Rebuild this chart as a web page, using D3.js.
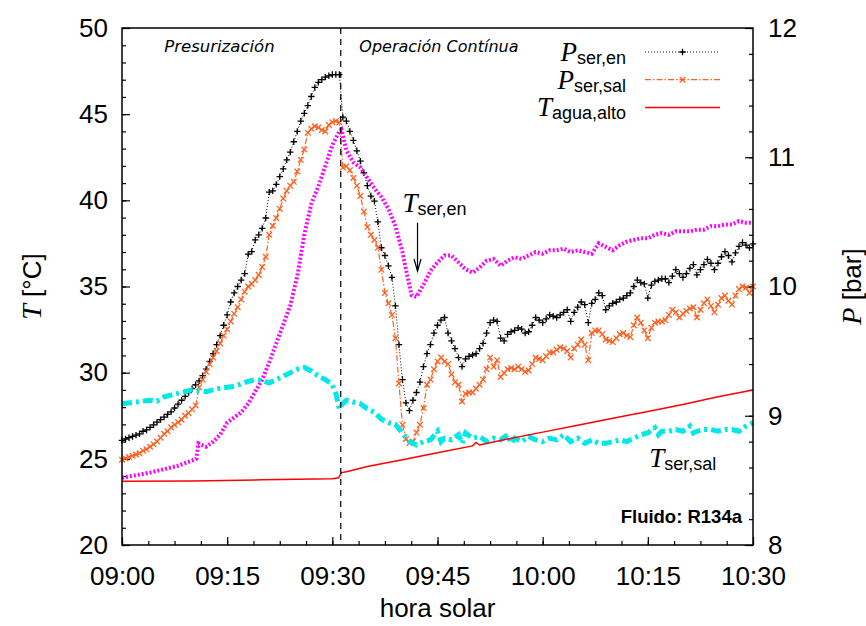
<!DOCTYPE html>
<html>
<head>
<meta charset="utf-8">
<script src="https://cdn.jsdelivr.net/npm/d3@7"></script>
<style>
body { margin: 0; background: #fff; }
svg text { fill: #000; }
.mathit { font-family: "Liberation Serif", serif; font-style: italic; }
</style>
</head>
<body>
<div id="chart"></div>
<script>
// time is minutes after 09:00; P series sampled every half minute
var pStep = 0.5;
var pSerEn = [
  8.81,8.82,8.83,8.84,8.85,8.86,8.88,8.89,8.91,8.93,
  8.95,8.97,8.99,9.01,9.03,9.06,9.09,9.12,9.15,9.18,
  9.21,9.24,9.27,9.31,9.36,9.42,9.48,9.55,9.62,9.70,
  9.78,9.88,9.95,10.00,10.05,10.10,10.25,10.27,10.36,10.40,
  10.45,10.53,10.73,10.74,10.79,10.85,10.91,10.98,11.04,11.12,
  11.20,11.28,11.34,11.40,11.47,11.54,11.58,11.60,11.62,11.63,
  11.64,11.64,11.64,11.31,11.28,11.20,11.13,11.05,10.97,10.88,
  10.78,10.70,10.66,10.50,10.30,10.24,10.16,10.07,9.85,9.55,
  9.28,9.10,9.04,9.12,9.18,9.26,9.38,9.48,9.55,9.64,
  9.70,9.74,9.76,9.64,9.58,9.52,9.45,9.38,9.44,9.46,
  9.47,9.48,9.52,9.56,9.64,9.72,9.74,9.73,9.60,9.58,
  9.63,9.65,9.66,9.68,9.67,9.64,9.65,9.70,9.76,9.74,
  9.72,9.75,9.78,9.77,9.76,9.78,9.80,9.82,9.73,9.80,
  9.84,9.88,9.86,9.72,9.87,9.90,9.95,9.93,9.82,9.85,
  9.87,9.88,9.90,9.91,9.93,9.95,10.00,10.05,10.03,10.02,
  9.91,10.01,10.04,10.05,10.06,10.06,10.03,10.08,10.13,10.10,
  10.07,10.10,10.14,10.17,10.09,10.13,10.17,10.21,10.18,10.13,
  10.18,10.23,10.27,10.24,10.19,10.26,10.31,10.34,10.32,10.30,
  10.33];
var pSerSal = [
  8.66,8.67,8.68,8.69,8.70,8.71,8.73,8.74,8.76,8.78,
  8.80,8.83,8.86,8.88,8.91,8.93,8.95,8.97,9.00,9.02,
  9.05,9.08,9.22,9.28,9.34,9.40,9.45,9.50,9.56,9.62,
  9.67,9.73,9.79,9.84,9.90,9.96,10.00,10.02,10.05,10.09,
  10.15,10.23,10.40,10.47,10.53,10.60,10.68,10.74,10.78,10.81,
  10.89,10.98,11.06,11.19,11.22,11.24,11.23,11.21,11.20,11.25,
  11.27,11.28,11.27,10.92,10.93,10.90,10.84,10.78,10.70,10.58,
  10.46,10.40,10.36,10.30,10.13,9.95,9.87,9.78,9.60,9.25,
  8.93,8.82,8.79,8.80,8.87,8.93,9.06,9.24,9.28,9.36,
  9.42,9.45,9.42,9.40,9.32,9.26,9.24,9.11,9.17,9.18,
  9.18,9.21,9.24,9.28,9.36,9.45,9.38,9.43,9.30,9.33,
  9.36,9.37,9.36,9.38,9.36,9.34,9.35,9.40,9.45,9.44,
  9.43,9.46,9.49,9.49,9.51,9.53,9.52,9.50,9.45,9.52,
  9.55,9.59,9.55,9.43,9.64,9.66,9.66,9.63,9.59,9.58,
  9.57,9.60,9.63,9.64,9.62,9.61,9.70,9.76,9.72,9.66,
  9.60,9.68,9.72,9.73,9.73,9.74,9.78,9.82,9.80,9.76,
  9.79,9.81,9.83,9.84,9.76,9.82,9.87,9.90,9.85,9.80,
  9.86,9.91,9.93,9.89,9.86,9.93,9.98,10.00,9.99,9.95,
  10.00];
// [minute, degC]
var tSerEn = [[0,23.9],[2,24.05],[4,24.2],[6,24.4],[8,24.6],[10,24.9],[10.6,25.0],[10.9,25.9],[12,25.7],[13,26.0],
  [14,26.4],[15,27.1],[16,27.4],[17,27.7],[18,28.2],[19,28.9],[20,29.6],[21,30.6],[22,31.7],[23,32.8],
  [24,33.9],[25,35.6],[26,38.0],[27,39.8],[28,40.8],[29,42.0],[30,43.2],[31,44.0],[31.3,44.1],[32,42.9],
  [33,42.2],[34,41.9],[35,41.3],[36,40.7],[37,40.2],[38,39.5],[39,38.5],[40,37.0],[40.6,35.8],[41.3,34.5],
  [42,34.4],[43,35.1],[44,35.9],[45,36.4],[46,36.8],[47,36.8],[48,36.4],[49,36.0],[50,35.8],[51,36.1],
  [52,36.5],[53,36.6],[54,36.2],[55,36.5],[56,36.7],[57,36.6],[58,36.8],[59,37.0],[60,36.9],[61,37.1],
  [62,37.1],[63,37.2],[64,37.0],[65,37.1],[66,37.0],[67,36.9],[68,37.5],[69,37.3],[70,37.1],[71,37.4],
  [72,37.6],[73,37.7],[74,37.8],[75,37.8],[76,38.0],[77,38.1],[78,38.0],[79,38.2],[80,38.2],[81,38.2],
  [82,38.3],[83,38.3],[84,38.5],[85,38.5],[86,38.6],[87,38.6],[88,38.8],[89,38.7],[90,38.7]];
var tSerSal = [[0,28.2],[2,28.3],[4,28.4],[5,28.35],[6,28.6],[7,28.7],[8,28.8],[9,28.9],[10,29.0],[11,28.95],
  [12,28.9],[13,29.0],[14,29.1],[15,29.15],[16,29.2],[17,29.35],[18,29.5],[19,29.6],[20,29.55],[21,29.4],
  [22,29.6],[23,29.8],[24,30.0],[25,30.2],[26,30.3],[27,30.1],[28,29.8],[29,29.6],[30,29.3],[30.5,28.8],
  [31,27.9],[31.5,28.2],[32,28.4],[33,28.3],[34,28.2],[35,27.9],[36,27.7],[37,27.3],[38,27.1],[39,27.0],
  [40,26.5],[41,26.0],[42,25.8],[43,26.0],[44,26.1],[45,26.6],[45.5,26.0],[46,26.2],[47,26.1],[48,26.4],
  [48.5,25.9],[49,26.5],[50,26.2],[51,26.3],[52,26.0],[53,26.2],[54,26.1],[55,26.4],[55.5,25.9],[56,26.2],
  [57,26.0],[58,26.3],[59,26.1],[60,26.0],[61,26.2],[62,26.1],[63,26.4],[64,26.0],[65,26.2],[66,25.9],
  [67,26.1],[68,25.9],[69,25.9],[70,26.0],[71,26.1],[72,26.0],[73,26.2],[74,26.4],[75,26.5],[76,26.8],
  [76.5,26.4],[77,26.6],[78,26.6],[79,26.7],[80,26.6],[81,26.9],[81.5,26.5],[82,26.6],[83,26.7],[84,26.7],
  [85,26.6],[86,26.7],[87,26.7],[88,26.6],[89,26.9],[90,27.1]];
var tAguaAlto = [[0,23.7],[10,23.72],[20,23.78],[30,23.85],[30.9,23.9],[31.3,24.2],[32,24.25],[33,24.35],
  [35,24.55],[40,24.95],[45,25.35],[50,25.75],[50.5,25.95],[51,25.8],[55,26.15],[60,26.55],[65,26.95],
  [70,27.35],[75,27.75],[80,28.15],[85,28.6],[90,29.0]];

var xTicks = [0, 15, 30, 45, 60, 75, 90];
var xTickLabels = ["09:00", "09:15", "09:30", "09:45", "10:00", "10:15", "10:30"];
var tTicks = [20, 25, 30, 35, 40, 45, 50];
var pTicks = [8, 9, 10, 11, 12];
var switchTime = 31.2;

var sans = "Liberation Sans, Arial, sans-serif";
var margin = {top: 28, right: 113, bottom: 81, left: 122},
    width = 866 - margin.left - margin.right,
    height = 626 - margin.top - margin.bottom;

var svg = d3.select("#chart").append("svg")
    .attr("width", 866)
    .attr("height", 626)
    .attr("font-family", sans)
  .append("g")
    .attr("transform", "translate(" + margin.left + "," + margin.top + ")");

var x = d3.scaleLinear().domain([0, 90]).range([0, width]);
var yT = d3.scaleLinear().domain([20, 50]).range([height, 0]);
var yP = d3.scaleLinear().domain([8, 12]).range([height, 0]);

// axes, ticks pointing inside
svg.append("g")
    .attr("transform", "translate(0," + height + ")")
    .call(d3.axisBottom(x).tickValues(d3.range(0, 90.01, 3.75)).tickSize(-4).tickFormat(""));
svg.append("g")
    .attr("transform", "translate(0," + height + ")")
    .call(d3.axisBottom(x).tickValues(xTicks).tickSize(-8).tickPadding(22)
      .tickFormat(function(d, i) { return xTickLabels[i]; }));
svg.append("g")
    .call(d3.axisLeft(yT).tickValues(d3.range(20, 50.01, 1)).tickSize(-4).tickFormat(""));
svg.append("g")
    .call(d3.axisLeft(yT).tickValues(tTicks).tickSize(-8).tickPadding(14));
svg.append("g")
    .attr("transform", "translate(" + width + ",0)")
    .call(d3.axisRight(yP).tickValues(d3.range(8, 12.01, 0.2)).tickSize(-4).tickFormat(""));
svg.append("g")
    .attr("transform", "translate(" + width + ",0)")
    .call(d3.axisRight(yP).tickValues(pTicks).tickSize(-8).tickPadding(15).tickFormat(d3.format("d")));

svg.selectAll(".domain").remove();
svg.selectAll(".tick line").attr("stroke", "#000").attr("stroke-width", 1.2);
svg.selectAll(".tick text").attr("font-size", 26).attr("font-family", sans);

var pData = function(arr) { return arr.map(function(v, i) { return {t: i * pStep, v: v}; }); };
var enData = pData(pSerEn), salData = pData(pSerSal);

var lineP = d3.line().x(function(d) { return x(d.t); }).y(function(d) { return yP(d.v); });
var lineT = d3.line().x(function(d) { return x(d[0]); }).y(function(d) { return yT(d[1]); });

var plusPath = "M-3.2,0H3.2M0,-3.2V3.2";
var crossPath = "M-2.8,-2.8L2.8,2.8M-2.8,2.8L2.8,-2.8";

// P_ser,en
svg.append("path").datum(enData).attr("d", lineP)
    .attr("fill", "none").attr("stroke", "#000").attr("stroke-width", 1).attr("stroke-dasharray", "1,2");
svg.append("g").selectAll("path").data(enData).join("path")
    .attr("transform", function(d) { return "translate(" + x(d.t) + "," + yP(d.v) + ")"; })
    .attr("d", plusPath).attr("stroke", "#000").attr("stroke-width", 1.3);

// P_ser,sal
svg.append("path").datum(salData).attr("d", lineP)
    .attr("fill", "none").attr("stroke", "#ff6020").attr("stroke-width", 1.2).attr("stroke-dasharray", "6,2,1.5,2");
svg.append("g").selectAll("path").data(salData).join("path")
    .attr("transform", function(d) { return "translate(" + x(d.t) + "," + yP(d.v) + ")"; })
    .attr("d", crossPath).attr("stroke", "#ff6020").attr("stroke-width", 1.3);

// T_ser,en
svg.append("path").datum(tSerEn).attr("d", lineT)
    .attr("fill", "none").attr("stroke", "#ff00ff").attr("stroke-width", 4).attr("stroke-dasharray", "2,2");
// T_ser,sal
svg.append("path").datum(tSerSal).attr("d", lineT)
    .attr("fill", "none").attr("stroke", "#00e8e8").attr("stroke-width", 5).attr("stroke-dasharray", "10,4,3,4");
// T_agua,alto
svg.append("path").datum(tAguaAlto).attr("d", lineT)
    .attr("fill", "none").attr("stroke", "#ff0000").attr("stroke-width", 1.5);

// start of continuous operation
svg.append("line")
    .attr("x1", x(switchTime)).attr("x2", x(switchTime)).attr("y1", 0).attr("y2", height)
    .attr("stroke", "#000").attr("stroke-width", 1.2).attr("stroke-dasharray", "6,5");

svg.append("rect").attr("width", width).attr("height", height)
    .attr("fill", "none").attr("stroke", "#000").attr("stroke-width", 1.5);

// phase labels
svg.append("text").attr("x", x(13.9)).attr("y", 24).attr("text-anchor", "middle")
    .attr("font-size", 16.5).attr("font-style", "italic").attr("font-family", "DejaVu Sans, sans-serif")
    .text("Presurización");
svg.append("text").attr("x", x(45.2)).attr("y", 24).attr("text-anchor", "middle")
    .attr("font-size", 16).attr("font-style", "italic").attr("font-family", "DejaVu Sans, sans-serif")
    .text("Operación Contínua");

function subText(g, px, py, main, sub, anchor) {
  var t = g.append("text").attr("x", px).attr("y", py).attr("text-anchor", anchor || "start");
  t.append("tspan").attr("class", "mathit").attr("font-size", 27).text(main);
  t.append("tspan").attr("font-size", 18).attr("dy", 3).text(sub);
  return t;
}

// legend
var legend = svg.append("g");
var legRows = [
  {main: "P", sub: "ser,en", color: "#000", dash: "1,2", w: 1, mark: plusPath},
  {main: "P", sub: "ser,sal", color: "#ff6020", dash: "6,2,1.5,2", w: 1.2, mark: crossPath},
  {main: "T", sub: "agua,alto", color: "#ff0000", dash: null, w: 1.5, mark: null}
];
legRows.forEach(function(r, i) {
  var ly = 24 + i * 27.7;
  subText(legend, 504, ly + 9, r.main, r.sub, "end");
  legend.append("line").attr("x1", 523).attr("x2", 598).attr("y1", ly).attr("y2", ly)
    .attr("stroke", r.color).attr("stroke-width", r.w).attr("stroke-dasharray", r.dash);
  if (r.mark) legend.append("path").attr("transform", "translate(560.5," + ly + ")")
    .attr("d", r.mark).attr("stroke", r.color).attr("stroke-width", 1.3);
});

// annotations
subText(svg, x(40.0), yT(39.3), "T", "ser,en");
svg.append("line").attr("x1", x(42.15)).attr("x2", x(42.15)).attr("y1", yT(38.7)).attr("y2", yT(35.9))
    .attr("stroke", "#000").attr("stroke-width", 1.2);
svg.append("path")
    .attr("transform", "translate(" + x(42.15) + "," + yT(35.9) + ")")
    .attr("d", "M-3.5,-12L0,0L3.5,-12").attr("fill", "none").attr("stroke", "#000").attr("stroke-width", 1.2);
subText(svg, x(75.2), yT(24.5), "T", "ser,sal");

svg.append("text").attr("x", width - 11).attr("y", height - 22).attr("text-anchor", "end")
    .attr("font-size", 18.5).attr("font-weight", "bold").text("Fluido: R134a");

// axis titles
var yl = svg.append("text").attr("transform", "translate(" + (-81) + "," + (height / 2) + ") rotate(-90)")
    .attr("text-anchor", "middle");
yl.append("tspan").attr("class", "mathit").attr("font-size", 28).text("T");
yl.append("tspan").attr("font-size", 26).text(" [°C]");
var yr = svg.append("text").attr("transform", "translate(" + (width + 108) + "," + (height / 2) + ") rotate(-90)")
    .attr("text-anchor", "middle");
yr.append("tspan").attr("class", "mathit").attr("font-size", 28).text("P");
yr.append("tspan").attr("font-size", 26).text(" [bar]");
svg.append("text").attr("x", width / 2).attr("y", height + 72).attr("text-anchor", "middle")
    .attr("font-size", 26).text("hora solar");
</script>
</body>
</html>
